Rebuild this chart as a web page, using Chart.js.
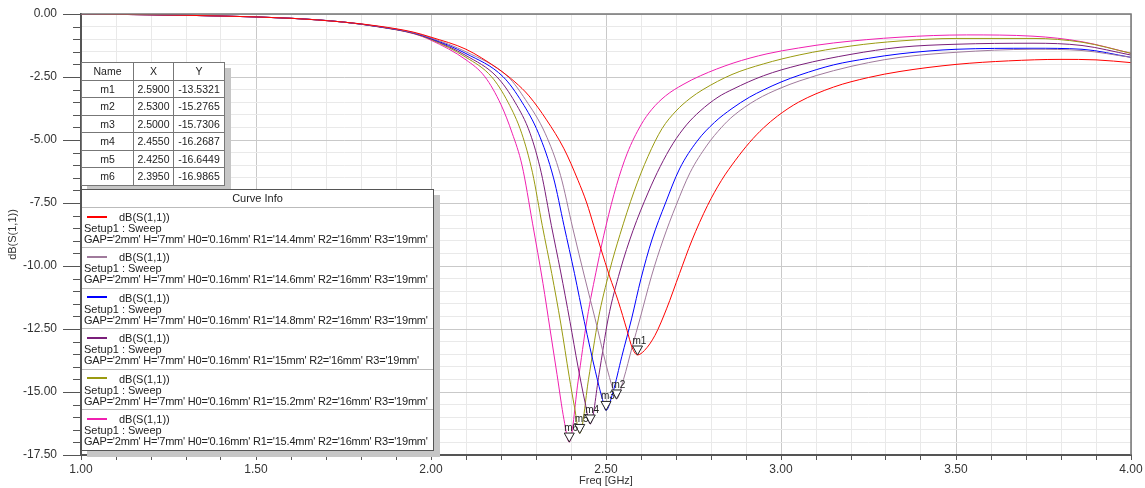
<!DOCTYPE html>
<html>
  <head>
    <title>dB(S(1,1)) sweep</title>
    <script src="https://cdn.jsdelivr.net/npm/chart.js"></script>
    <style>
      body { margin: 0; background: #fff; font-family: "Liberation Sans", Arial, sans-serif; }
      #wrap { position: relative; width: 1145px; height: 488px; }
      #markerBox { position: absolute; left: 81px; top: 62px; background: #fff; box-shadow: 6px 6px 0 #c6c6c6; }
      #markerBox table { border-collapse: collapse; font-size: 10.5px; color: #222; border: 1.5px solid #555; }
      #markerBox td { border: 1px solid #777; height: 16.5px; padding: 0; text-align: center; }
      #curveInfo { position: absolute; left: 81px; top: 189px; width: 351px; background: #fff;
        border: 1.5px solid #555; box-shadow: 6px 6px 0 #c6c6c6; font-size: 11px; color: #222; }
      .ciHead { height: 17px; line-height: 17px; text-align: center; border-bottom: 1px solid #bbb; }
      .ciRow { height: 40.4px; box-sizing: border-box; padding: 4px 0 0 2px; border-bottom: 1px solid #bbb; line-height: 11px; white-space: nowrap; }
      .ciRow:last-child { border-bottom: none; }
      .ciSwatch { display: inline-block; width: 20px; height: 2px; margin: 0 12px 3px 3px; vertical-align: middle; }
      .ciGap { letter-spacing: -0.2px; }
    </style>
  </head>

  <body>
    <div id="wrap">
      <canvas id="myChart" width="1145" height="488"></canvas>
      <div id="markerBox"><table id="markerTable"></table></div>
      <div id="curveInfo">
        <div class="ciHead">Curve Info</div>
        <div id="ciRows"></div>
      </div>
    </div>

    <script>
      // R1 sweep values and trace colours
      const r1Values = ["14.4", "14.6", "14.8", "15", "15.2", "15.4"];
      const curveColors = ["#ff0000", "#a07a9c", "#0000ff", "#7a1e7a", "#9a9a10", "#f020b0"];

      // R1 = 14.4mm
      const freq144 = [1.0, 1.2, 1.4, 1.6, 1.75, 1.85, 1.95, 2.0, 2.1, 2.19, 2.24, 2.28, 2.33, 2.38, 2.42, 2.445, 2.465, 2.485, 2.51, 2.535, 2.56, 2.575, 2.59, 2.61, 2.64, 2.673, 2.71, 2.745, 2.79, 2.83, 2.87, 2.91, 2.95, 2.99, 3.05, 3.15, 3.25, 3.34, 3.5, 3.65, 3.8, 3.9, 4.0];
      const db144 = [0, -0.03, -0.08, -0.17, -0.32, -0.48, -0.72, -0.92, -1.4, -2.16, -2.7, -3.25, -4.2, -5.35, -6.6, -7.5, -8.4, -9.3, -10.4, -11.4, -12.55, -13.25, -13.53, -13.35, -12.75, -11.7, -10.3, -9.0, -7.6, -6.6, -5.8, -5.1, -4.52, -4.05, -3.5, -2.9, -2.52, -2.28, -2.0, -1.86, -1.8, -1.82, -1.93];

      // R1 = 14.6mm
      const freq146 = [1.0, 1.2, 1.4, 1.6, 1.75, 1.85, 1.95, 2.0, 2.1, 2.22, 2.27, 2.326, 2.37, 2.405, 2.44, 2.469, 2.5, 2.52, 2.53, 2.55, 2.575, 2.597, 2.63, 2.663, 2.7, 2.74, 2.789, 2.83, 2.863, 2.93, 2.997, 3.054, 3.15, 3.25, 3.34, 3.5, 3.72, 3.86, 4.0];
      const db146 = [0, -0.03, -0.08, -0.17, -0.32, -0.49, -0.74, -0.95, -1.5, -2.49, -3.4, -4.73, -6.4, -8.5, -10.5, -12.1, -13.9, -14.9, -15.28, -14.5, -13.2, -12.1, -10.4, -8.97, -7.6, -6.3, -5.2, -4.5, -4.05, -3.4, -2.95, -2.65, -2.25, -1.93, -1.72, -1.52, -1.4, -1.45, -1.72];

      // R1 = 14.8mm
      const freq148 = [1.0, 1.2, 1.4, 1.6, 1.75, 1.85, 1.95, 2.0, 2.1, 2.206, 2.26, 2.307, 2.35, 2.38, 2.41, 2.438, 2.47, 2.49, 2.5, 2.52, 2.545, 2.573, 2.6, 2.631, 2.67, 2.71, 2.76, 2.81, 2.86, 2.91, 2.949, 3.0, 3.054, 3.15, 3.25, 3.34, 3.5, 3.72, 3.86, 4.0];
      const db148 = [0, -0.03, -0.08, -0.17, -0.32, -0.5, -0.75, -0.97, -1.57, -2.49, -3.5, -4.73, -6.5, -8.4, -10.3, -12.2, -14.2, -15.3, -15.73, -15.0, -13.6, -12.1, -10.5, -8.97, -7.5, -6.15, -5.05, -4.3, -3.75, -3.3, -3.02, -2.7, -2.42, -2.02, -1.76, -1.58, -1.4, -1.36, -1.4, -1.72];

      // R1 = 15mm
      const freq150 = [1.0, 1.2, 1.4, 1.6, 1.75, 1.85, 1.95, 2.0, 2.1, 2.188, 2.24, 2.283, 2.315, 2.344, 2.37, 2.397, 2.42, 2.44, 2.455, 2.48, 2.506, 2.54, 2.577, 2.62, 2.655, 2.691, 2.73, 2.769, 2.82, 2.863, 2.95, 3.054, 3.2, 3.34, 3.5, 3.72, 3.86, 4.0];
      const db150 = [0, -0.03, -0.08, -0.17, -0.32, -0.5, -0.76, -0.99, -1.65, -2.49, -3.5, -4.73, -6.3, -8.4, -10.2, -12.2, -14.0, -15.4, -16.27, -14.3, -12.1, -10.2, -8.6, -7.1, -6.05, -5.15, -4.4, -3.85, -3.3, -2.98, -2.45, -2.02, -1.6, -1.32, -1.2, -1.16, -1.25, -1.63];

      // R1 = 15.2mm
      const freq152 = [1.0, 1.2, 1.4, 1.6, 1.75, 1.85, 1.95, 2.0, 2.1, 2.173, 2.22, 2.259, 2.29, 2.318, 2.345, 2.371, 2.395, 2.41, 2.425, 2.45, 2.478, 2.51, 2.54, 2.58, 2.62, 2.66, 2.7, 2.74, 2.777, 2.86, 2.95, 3.054, 3.2, 3.34, 3.5, 3.72, 3.86, 4.0];
      const db152 = [0, -0.03, -0.08, -0.17, -0.32, -0.51, -0.77, -1.01, -1.72, -2.49, -3.5, -4.73, -6.3, -8.4, -10.3, -12.3, -14.4, -15.6, -16.64, -14.5, -12.1, -10.2, -8.75, -7.05, -5.65, -4.55, -3.85, -3.35, -3.0, -2.4, -1.98, -1.62, -1.27, -1.07, -0.97, -0.97, -1.12, -1.56];

      // R1 = 15.4mm
      const freq154 = [1.0, 1.2, 1.4, 1.6, 1.75, 1.85, 1.95, 2.0, 2.1, 2.154, 2.2, 2.232, 2.26, 2.29, 2.32, 2.34, 2.36, 2.38, 2.395, 2.42, 2.446, 2.475, 2.5, 2.53, 2.56, 2.6, 2.63, 2.67, 2.72, 2.77, 2.863, 2.96, 3.05, 3.15, 3.34, 3.53, 3.72, 3.86, 4.0];
      const db154 = [0, -0.03, -0.08, -0.17, -0.32, -0.51, -0.78, -1.04, -1.82, -2.49, -3.6, -4.73, -6.0, -8.3, -10.7, -12.5, -14.3, -16.1, -16.99, -14.6, -12.1, -10.0, -8.4, -6.8, -5.55, -4.4, -3.8, -3.25, -2.8, -2.45, -1.95, -1.58, -1.35, -1.15, -0.92, -0.83, -0.88, -1.1, -1.56];

      // marker table (m1..m6)
      const markerNames = ["m1", "m2", "m3", "m4", "m5", "m6"];
      const markerFreq = [2.59, 2.53, 2.5, 2.455, 2.425, 2.395];
      const markerDb = [-13.5321, -15.2765, -15.7306, -16.2687, -16.6449, -16.9865];

      const curves = [
        [freq144, db144],
        [freq146, db146],
        [freq148, db148],
        [freq150, db150],
        [freq152, db152],
        [freq154, db154],
      ];

      function isMajor(v, step) {
        var r = v / step;
        return Math.abs(r - Math.round(r)) < 1e-6;
      }

      // marker table
      var table = document.getElementById("markerTable");
      var head = "<tr><td style='width:51px'>Name</td><td style='width:39px'>X</td><td style='width:50px'>Y</td></tr>";
      var rows = markerNames.map(function (n, i) {
        return "<tr><td>" + n + "</td><td>" + markerFreq[i].toFixed(4) + "</td><td>" + markerDb[i].toFixed(4) + "</td></tr>";
      });
      table.innerHTML = head + rows.join("");

      // curve info legend
      var ci = document.getElementById("ciRows");
      r1Values.forEach(function (r1, i) {
        var div = document.createElement("div");
        div.className = "ciRow";
        div.innerHTML =
          "<span class='ciSwatch' style='background:" + curveColors[i] + "'></span>dB(S(1,1))<br>" +
          "Setup1 : Sweep<br>" +
          "<span class='ciGap'>GAP='2mm' H='7mm' H0='0.16mm' R1='" + r1 + "mm' R2='16mm' R3='19mm'</span>";
        ci.appendChild(div);
      });

      // top/right frame, minor y ticks and the m1..m6 markers
      var overlayPlugin = {
        id: "overlay",
        afterDraw: function (chart) {
          var ctx = chart.ctx;
          var a = chart.chartArea;
          var x = chart.scales.x;
          var y = chart.scales.y;
          ctx.save();
          ctx.strokeStyle = "#777";
          ctx.lineWidth = 1.5;
          ctx.beginPath();
          ctx.moveTo(a.left, a.top);
          ctx.lineTo(a.right, a.top);
          ctx.lineTo(a.right, a.bottom);
          ctx.stroke();

          ctx.strokeStyle = "#555";
          ctx.lineWidth = 1;
          y.ticks.forEach(function (t) {
            if (isMajor(t.value, 2.5)) return;
            var py = Math.round(y.getPixelForValue(t.value)) + 0.5;
            ctx.beginPath();
            ctx.moveTo(a.left - 8, py);
            ctx.lineTo(a.left, py);
            ctx.stroke();
          });

          ctx.font = "10px 'Liberation Sans', Arial";
          markerFreq.forEach(function (f, i) {
            var px = x.getPixelForValue(f);
            var py = y.getPixelForValue(markerDb[i]);
            ctx.beginPath();
            ctx.moveTo(px, py);
            ctx.lineTo(px - 5, py - 9);
            ctx.lineTo(px + 5, py - 9);
            ctx.closePath();
            ctx.fillStyle = "#fff";
            ctx.fill();
            ctx.strokeStyle = "#222";
            ctx.stroke();
            ctx.fillStyle = "#222";
            ctx.fillText(markerNames[i], px - 5, py - 11);
          });
          ctx.restore();
        },
      };

      Chart.defaults.font.family = "'Liberation Sans', Arial, sans-serif";

      var ctx = document.getElementById("myChart").getContext("2d");
      var chart = new Chart(ctx, {
        type: "line",
        data: {
          datasets: curves.map(function (c, i) {
            return {
              label: "R1=" + r1Values[i] + "mm",
              data: c[0].map(function (f, j) {
                return { x: f, y: c[1][j] };
              }),
              borderColor: curveColors[i],
              borderWidth: 1,
              pointRadius: 0,
              cubicInterpolationMode: "monotone",
              fill: false,
            };
          }),
        },
        options: {
          responsive: false,
          animation: false,
          devicePixelRatio: 1,
          layout: { padding: { top: 14, right: 14, left: 0, bottom: 0 } },
          plugins: { legend: { display: false }, tooltip: { enabled: false } },
          scales: {
            x: {
              type: "linear",
              min: 1,
              max: 4,
              afterFit: function (s) { s.height = 33; },
              border: { color: "#555", width: 2 },
              grid: {
                color: function (c) { return isMajor(c.tick.value, 0.5) ? "#c9c9c9" : "#e9e9e9"; },
                tickColor: "#555",
                tickLength: 5,
              },
              ticks: {
                stepSize: 0.1,
                autoSkip: false,
                maxRotation: 0,
                padding: 2,
                color: "#333",
                font: { size: 12 },
                callback: function (v) { return isMajor(v, 0.5) ? v.toFixed(2) : ""; },
              },
              title: { display: true, text: "Freq [GHz]", color: "#333", font: { size: 11 }, padding: { top: 0, bottom: 0 } },
            },
            y: {
              min: -17.5,
              max: 0,
              afterFit: function (s) { s.width = 81; },
              border: { color: "#555", width: 2 },
              grid: {
                color: function (c) { return isMajor(c.tick.value, 2.5) ? "#c9c9c9" : "#e9e9e9"; },
                tickColor: function (c) { return isMajor(c.tick.value, 2.5) ? "#555" : "rgba(0,0,0,0)"; },
                tickLength: 18,
              },
              ticks: {
                stepSize: 0.5,
                autoSkip: false,
                padding: 6,
                color: "#333",
                font: { size: 12 },
                callback: function (v) { return isMajor(v, 2.5) ? v.toFixed(2) : ""; },
              },
              title: { display: true, text: "dB(S(1,1))", color: "#333", font: { size: 11 }, padding: { top: 6, bottom: 0 } },
            },
          },
        },
        plugins: [overlayPlugin],
      });
    </script>
  </body>
</html>
